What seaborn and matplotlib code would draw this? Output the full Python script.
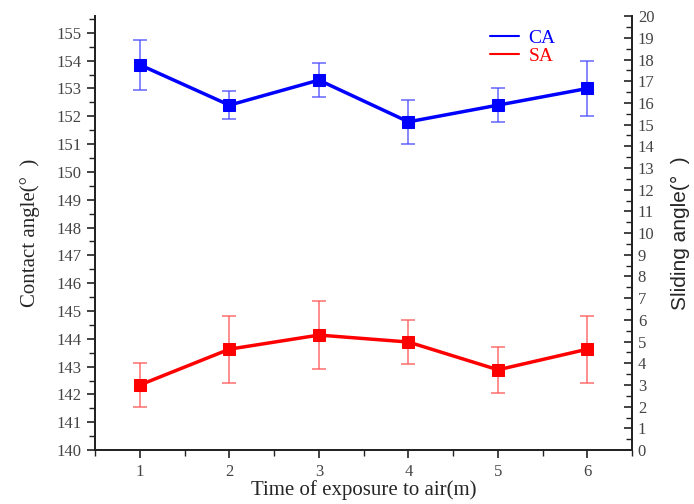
import matplotlib
matplotlib.use("Agg")
import matplotlib.pyplot as plt
import seaborn as sns
import pandas as pd
from matplotlib.ticker import MultipleLocator
from matplotlib.lines import Line2D

sns.set_style("ticks")
plt.rcParams['font.family'] = ['Liberation Serif', 'DejaVu Serif']

time = [1, 2, 3, 4, 5, 6]
ca = [153.85, 152.4, 153.3, 151.8, 152.4, 153.0]
ca_err = [0.9, 0.5, 0.6, 0.8, 0.6, 1.0]
sa = [3.0, 4.65, 5.3, 4.98, 3.7, 4.65]
sa_err = [1.0, 1.55, 1.55, 1.0, 1.06, 1.55]

df = pd.DataFrame({"time": time, "CA": ca, "SA": sa})

fig = plt.figure(figsize=(6.94, 5.04), dpi=100)
ax = fig.add_axes([0.137, 0.107, 0.774, 0.861])
ax2 = ax.twinx()

ax.errorbar(time, ca, yerr=ca_err, fmt='none', ecolor=(0.3, 0.3, 1.0, 0.8),
            elinewidth=1.2, capsize=5, capthick=1.2, zorder=2)
sns.lineplot(data=df, x="time", y="CA", ax=ax, color="#0000ff", lw=2.5,
             marker="s", markersize=8, markeredgecolor="#0000ff", zorder=3)
ax2.errorbar(time, sa, yerr=sa_err, fmt='none', ecolor=(1.0, 0.35, 0.35, 0.8),
             elinewidth=1.2, capsize=5, capthick=1.2, zorder=2)
sns.lineplot(data=df, x="time", y="SA", ax=ax2, color="#ff0000", lw=2.5,
             marker="s", markersize=8, markeredgecolor="#ff0000", zorder=3)

ax.set_xlim(0.5, 6.5)
ax.set_ylim(140, 155.6)
ax2.set_ylim(0, 20)
ax.set_xticks(time)
ax.xaxis.set_minor_locator(MultipleLocator(0.5))
ax.yaxis.set_major_locator(MultipleLocator(1))
ax.yaxis.set_minor_locator(MultipleLocator(0.5))
ax2.yaxis.set_major_locator(MultipleLocator(1))
ax2.yaxis.set_minor_locator(MultipleLocator(0.5))

for a in (ax, ax2):
    a.spines['top'].set_visible(False)
    for s in a.spines.values():
        s.set_linewidth(1.3)
        s.set_color('#222222')

ax.tick_params(axis='both', which='major', direction='out', length=6, width=1.2,
               labelsize=12, labelcolor='#444444', color='#222222')
ax.tick_params(axis='both', which='minor', direction='out', length=4, width=1.0, color='#222222')
ax2.tick_params(axis='y', which='major', direction='in', length=6, width=1.2,
                labelsize=12, labelcolor='#444444', color='#222222', pad=4)
ax2.tick_params(axis='y', which='minor', direction='in', length=4, width=1.0, color='#222222')
ax.tick_params(axis='x', pad=4)

ax.set_xlabel("Time of exposure to air(m)", fontsize=15, labelpad=0)
ax.set_ylabel("Contact angle(°  )", fontsize=15, labelpad=12)
ax2.set_ylabel("Sliding angle(°  )", fontsize=15, labelpad=12,
               family=['Liberation Sans', 'DejaVu Sans'])

handles = [Line2D([0], [0], color='#0000ff', lw=1.5), Line2D([0], [0], color='#ff0000', lw=1.5)]
leg = ax.legend(handles, ["CA", "SA"], loc='upper right', bbox_to_anchor=(0.89, 1.01),
                frameon=False, fontsize=14, handlelength=1.5, labelspacing=0.0,
                handletextpad=0.5)
for t, c in zip(leg.get_texts(), ['#0000ff', '#ff0000']):
    t.set_color(c)

fig.savefig("out.png", dpi=100)
